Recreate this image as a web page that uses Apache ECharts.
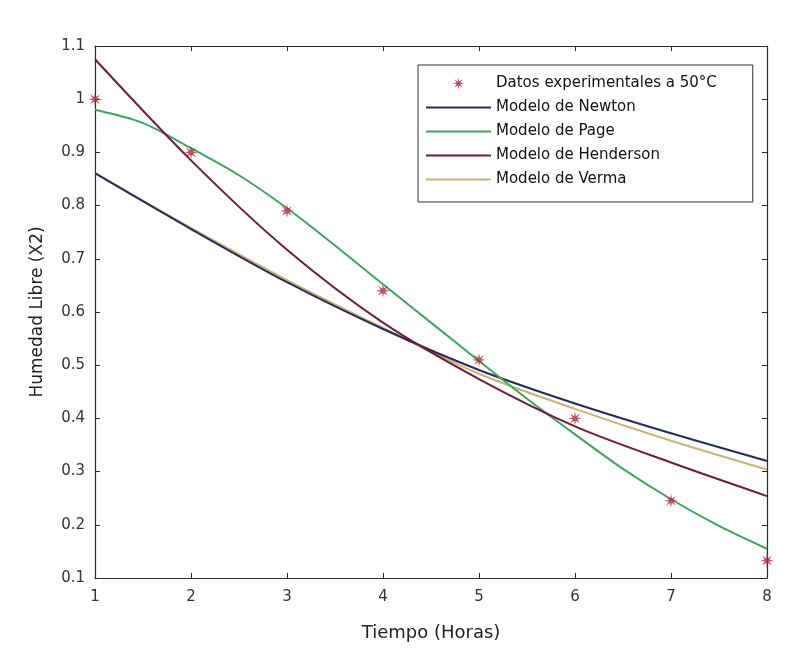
<!DOCTYPE html>
<html>
<head>
<meta charset="utf-8">
<title>Humedad libre vs tiempo</title>
<script src="https://cdn.jsdelivr.net/npm/echarts@6/dist/echarts.min.js"></script>
<style>
  html, body { margin: 0; padding: 0; background: #fff; }
  #chart { width: 812px; height: 665px; }
</style>
</head>
<body>
<div id="chart"></div>
<script type="text/javascript">
// valores
var tiempo = [1, 2, 3, 4, 5, 6, 7, 8];
var experimental = [1.0, 0.90, 0.79, 0.64, 0.51, 0.40, 0.245, 0.133];
var newton = [0.861, 0.756, 0.656, 0.568, 0.491, 0.428, 0.372, 0.320];
var henderson = [1.075, 0.885, 0.717, 0.580, 0.474, 0.385, 0.317, 0.254];
var verma = [0.861, 0.758, 0.660, 0.570, 0.484, 0.418, 0.358, 0.304];
var tiempoPage = [1, 1.5, 2, 2.5, 3, 3.5, 4, 4.5, 5, 5.5, 6, 6.5, 7, 7.5, 8];
var page = [0.980, 0.955, 0.908, 0.857, 0.795, 0.725, 0.652, 0.580, 0.508, 0.437, 0.370, 0.305, 0.248, 0.198, 0.155];
var yTicks = [0.1, 0.2, 0.3, 0.4, 0.5, 0.6, 0.7, 0.8, 0.9, 1, 1.1];

function pares(xs, ys) {
  return xs.map(function (x, i) { return [x, ys[i]]; });
}

var estrella = 'path://M10 0 L3.2 1.3 L7.07 7.07 L1.3 3.2 L0 10 L-1.3 3.2 L-7.07 7.07 L-3.2 1.3 L-10 0 L-3.2 -1.3 L-7.07 -7.07 L-1.3 -3.2 L0 -10 L1.3 -3.2 L7.07 -7.07 L3.2 -1.3 Z';
var fuente = '"DejaVu Sans", "Liberation Sans", sans-serif';
var ejeColor = '#2a2a2a';
var sinSimbolo = { opacity: 0 };

var myChart = echarts.init(document.getElementById('chart'));

var ejeX = {
  type: 'value', min: 1, max: 8, interval: 1,
  axisLine: { show: true, onZero: false, lineStyle: { color: ejeColor, width: 1.2 } },
  axisTick: { show: true, inside: true, length: 5, lineStyle: { color: ejeColor } },
  splitLine: { show: false }
};
var ejeY = {
  type: 'value', min: 0.1, max: 1.1, interval: 0.1,
  axisLine: { show: true, onZero: false, lineStyle: { color: ejeColor, width: 1.2 } },
  axisTick: { show: true, inside: true, length: 5, lineStyle: { color: ejeColor } },
  splitLine: { show: false }
};

option = {
  backgroundColor: '#fff',
  animation: false,
  textStyle: { fontFamily: fuente },
  grid: { left: 95, right: 45, top: 46, bottom: 87 },
  legend: {
    orient: 'vertical',
    left: 418, top: 65,
    padding: [11, 36, 15, 7],
    itemWidth: 65, itemHeight: 12,
    itemGap: 9,
    borderColor: '#333', borderWidth: 1,
    borderRadius: 0,
    backgroundColor: '#fff',
    textStyle: { fontFamily: fuente, fontSize: 15, color: '#111' },
    data: [
      { name: 'Datos experimentales a 50°C', icon: estrella },
      { name: 'Modelo de Newton', itemStyle: sinSimbolo },
      { name: 'Modelo de Page', itemStyle: sinSimbolo },
      { name: 'Modelo de Henderson', itemStyle: sinSimbolo },
      { name: 'Modelo de Verma', itemStyle: sinSimbolo }
    ]
  },
  xAxis: [
    Object.assign({}, ejeX, {
      position: 'bottom',
      name: 'Tiempo (Horas)', nameLocation: 'middle', nameGap: 46,
      nameTextStyle: { fontFamily: fuente, fontSize: 18, color: '#222' },
      axisLabel: { fontFamily: fuente, fontSize: 15, color: '#333', margin: 12 }
    }),
    Object.assign({}, ejeX, { position: 'top', axisLabel: { show: false } })
  ],
  yAxis: [
    Object.assign({}, ejeY, {
      position: 'left',
      name: 'Humedad Libre (X2)', nameLocation: 'middle', nameGap: 49,
      nameTextStyle: { fontFamily: fuente, fontSize: 17, color: '#222' },
      axisLabel: {
        fontFamily: fuente, fontSize: 15, color: '#333', margin: 10,
        formatter: function (v) {
          var t = yTicks.find(function (k) { return Math.abs(k - v) < 1e-6; });
          return t === undefined ? '' : String(t);
        }
      }
    }),
    Object.assign({}, ejeY, { position: 'right', axisLabel: { show: false } })
  ],
  series: [
    {
      name: 'Modelo de Newton', type: 'line', smooth: 0.3, symbol: 'none',
      lineStyle: { color: '#262c5a', width: 2 }, itemStyle: { color: '#262c5a' },
      data: pares(tiempo, newton), z: 3
    },
    {
      name: 'Modelo de Page', type: 'line', smooth: 0.3, symbol: 'none',
      lineStyle: { color: '#3fa45e', width: 2 }, itemStyle: { color: '#3fa45e' },
      data: pares(tiempoPage, page), z: 3
    },
    {
      name: 'Modelo de Henderson', type: 'line', smooth: 0.3, symbol: 'none',
      lineStyle: { color: '#6e1d3a', width: 2 }, itemStyle: { color: '#6e1d3a' },
      data: pares(tiempo, henderson), z: 3
    },
    {
      name: 'Modelo de Verma', type: 'line', smooth: 0.3, symbol: 'none',
      lineStyle: { color: '#c9b276', width: 2 }, itemStyle: { color: '#c9b276' },
      data: pares(tiempo, verma), z: 2
    },
    {
      name: 'Datos experimentales a 50°C', type: 'scatter',
      symbol: estrella, symbolSize: 14, symbolKeepAspect: true,
      itemStyle: { color: '#a82a3c' },
      data: pares(tiempo, experimental), z: 5
    }
  ]
};
myChart.setOption(option);
</script>
</body>
</html>
